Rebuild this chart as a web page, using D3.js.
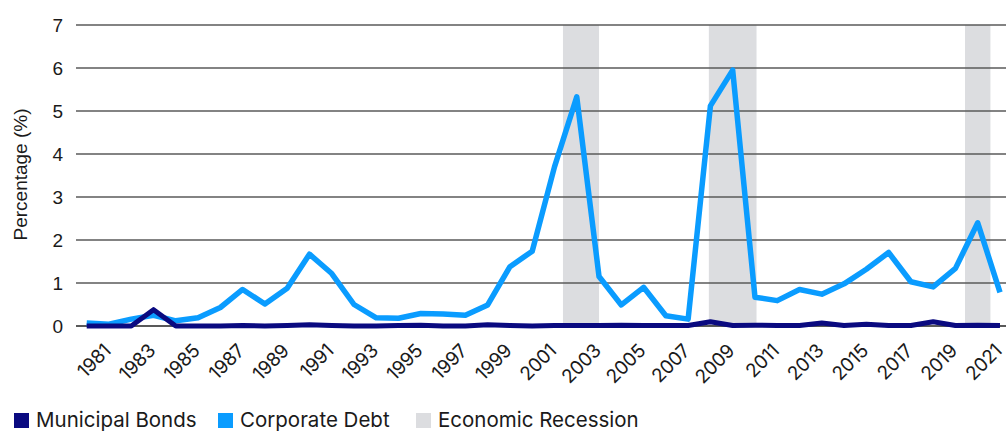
<!DOCTYPE html>
<html>
<head>
<meta charset="utf-8">
<script src="https://cdn.jsdelivr.net/npm/d3@7"></script>
<style>
  html, body { margin: 0; padding: 0; background: #fff; }
  svg { display: block; }
</style>
</head>
<body>
<svg id="chart" width="1006" height="431"></svg>
<script>
// Default rates by year, in percent
const years = d3.range(1980, 2022);
const municipalBonds = [
  0.00, 0.00, 0.00, 0.38, 0.00, 0.00, 0.00, 0.01, 0.00, 0.01,
  0.03, 0.01, 0.00, 0.00, 0.01, 0.02, 0.00, 0.00, 0.03, 0.01,
  0.00, 0.01, 0.01, 0.01, 0.02, 0.01, 0.01, 0.01, 0.10, 0.01,
  0.02, 0.01, 0.01, 0.07, 0.01, 0.04, 0.01, 0.01, 0.10, 0.01,
  0.02, 0.01
];
const corporateDebt = [
  0.07, 0.04, 0.16, 0.25, 0.12, 0.19, 0.43, 0.85, 0.51, 0.88,
  1.67, 1.22, 0.50, 0.19, 0.18, 0.29, 0.28, 0.25, 0.49, 1.38,
  1.74, 3.70, 5.33, 1.15, 0.49, 0.90, 0.24, 0.16, 5.12, 5.95,
  0.67, 0.59, 0.85, 0.74, 0.98, 1.32, 1.71, 1.03, 0.91, 1.34,
  2.40, 0.78
];
// Recession periods as [start, end] on the year axis
const recessions = [[2001.38, 2003.0], [2007.93, 2010.07], [2019.43, 2020.57]];
const yTicks = [0, 1, 2, 3, 4, 5, 6, 7];
const xTickYears = d3.range(1981, 2022, 2);

const colors = {
  municipal: "#0a0a80",
  corporate: "#0a9cff",
  recession: "#dcdde0",
  grid: "#5a5a5a",
  text: "#1a1a1a"
};

const svg = d3.select("#chart");
const x = d3.scaleLinear().domain([1980, 2021]).range([86.7, 1000]);
const y = d3.scaleLinear().domain([0, 7]).range([326, 25]);
const gridLeft = 76, gridRight = 1006;

// Recession shading
svg.append("g").selectAll("rect")
  .data(recessions)
  .join("rect")
  .attr("x", d => x(d[0]))
  .attr("width", d => x(d[1]) - x(d[0]))
  .attr("y", y(7))
  .attr("height", y(0) - y(7))
  .attr("fill", colors.recession);

// Horizontal gridlines
svg.append("g").selectAll("line")
  .data(yTicks)
  .join("line")
  .attr("x1", gridLeft).attr("x2", gridRight)
  .attr("y1", d => y(d)).attr("y2", d => y(d))
  .attr("stroke", d => d === 0 ? "#222" : colors.grid)
  .attr("stroke-width", 1.3);

// Y tick labels
svg.append("g").selectAll("text")
  .data(yTicks)
  .join("text")
  .attr("x", 63)
  .attr("y", d => y(d))
  .attr("dy", "0.36em")
  .attr("text-anchor", "end")
  .attr("font-family", "Liberation Sans, Arial, sans-serif")
  .attr("font-size", 19)
  .attr("fill", colors.text)
  .text(d => d);

// Y axis title
svg.append("text")
  .attr("transform", `translate(27,${(y(0) + y(7)) / 2 - 1}) rotate(-90)`)
  .attr("text-anchor", "middle")
  .attr("font-family", "Liberation Sans, Arial, sans-serif")
  .attr("font-size", 19)
  .attr("fill", colors.text)
  .text("Percentage (%)");

// X tick labels, rotated
svg.append("g").selectAll("text")
  .data(xTickYears)
  .join("text")
  .attr("transform", d => `translate(${x(d) + 3},352) rotate(-45)`)
  .attr("text-anchor", "end")
  .attr("font-family", "Inter, sans-serif")
  .attr("font-size", 19)
  .attr("letter-spacing", "-0.3")
  .attr("fill", colors.text)
  .text(d => d);

// Series lines
const line = values => d3.line()
  .x((d, i) => x(years[i]))
  .y(d => y(d))(values);

svg.append("path")
  .attr("d", line(corporateDebt))
  .attr("fill", "none")
  .attr("stroke", colors.corporate)
  .attr("stroke-width", 5.5)
  .attr("stroke-linejoin", "round");

svg.append("path")
  .attr("d", line(municipalBonds))
  .attr("fill", "none")
  .attr("stroke", colors.municipal)
  .attr("stroke-width", 5)
  .attr("stroke-linejoin", "round");

// Legend
const legendItems = [
  { label: "Municipal Bonds", color: colors.municipal, x: 14 },
  { label: "Corporate Debt", color: colors.corporate, x: 218 },
  { label: "Economic Recession", color: colors.recession, x: 416 }
];
const legend = svg.append("g").selectAll("g")
  .data(legendItems)
  .join("g")
  .attr("transform", d => `translate(${d.x},0)`);
legend.append("rect")
  .attr("x", 0).attr("y", 413)
  .attr("width", 15).attr("height", 15)
  .attr("fill", d => d.color);
legend.append("text")
  .attr("x", 22).attr("y", 427)
  .attr("font-family", "Inter, sans-serif")
  .attr("font-size", 20.5)
  .attr("fill", colors.text)
  .text(d => d.label);
</script>
</body>
</html>
